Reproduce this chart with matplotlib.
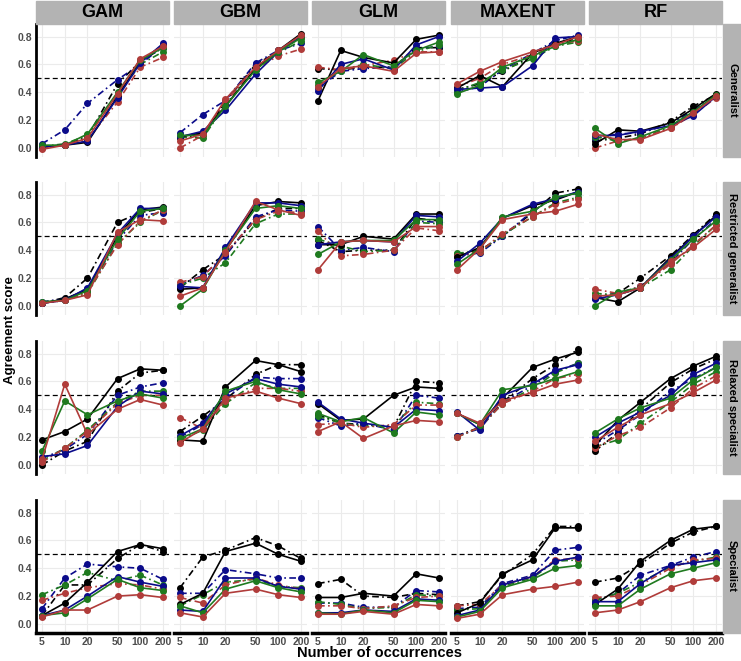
import numpy as np
import matplotlib.pyplot as plt

plt.rcParams['font.family'] = ['Liberation Sans', 'DejaVu Sans']

occurrences = [5, 10, 20, 50, 100, 200]
models = ['GAM', 'GBM', 'GLM', 'MAXENT', 'RF']
niches = ['Generalist', 'Restricted generalist', 'Relaxed specialist', 'Specialist']

# series order in each panel:
# black solid, black dotdash, navy solid, navy dotdash,
# green solid, green dotdash, red solid, red dotdash
series_colors = ['#000000', '#000000', '#0B0B8A', '#0B0B8A',
                 '#1F7A1F', '#1F7A1F', '#B03C3A', '#B03C3A']
series_dashed = [False, True, False, True, False, True, False, True]

# --- Generalist ---
gam_gen = [[0.01, 0.02, 0.04, 0.37, 0.62, 0.74],
           [0.01, 0.02, 0.08, 0.46, 0.62, 0.72],
           [0.01, 0.02, 0.05, 0.36, 0.61, 0.75],
           [0.03, 0.13, 0.32, 0.49, 0.60, 0.73],
           [0.02, 0.02, 0.10, 0.40, 0.63, 0.72],
           [0.01, 0.03, 0.09, 0.38, 0.60, 0.69],
           [-0.01, 0.02, 0.07, 0.39, 0.64, 0.73],
           [0.00, 0.02, 0.06, 0.33, 0.58, 0.65]]
gbm_gen = [[0.08, 0.11, 0.30, 0.57, 0.70, 0.82],
           [0.07, 0.10, 0.33, 0.60, 0.69, 0.80],
           [0.08, 0.12, 0.27, 0.53, 0.69, 0.80],
           [0.11, 0.24, 0.34, 0.61, 0.70, 0.75],
           [0.09, 0.09, 0.30, 0.56, 0.69, 0.79],
           [0.08, 0.07, 0.31, 0.57, 0.68, 0.77],
           [0.05, 0.10, 0.35, 0.58, 0.70, 0.81],
           [0.00, 0.09, 0.33, 0.57, 0.66, 0.71]]
glm_gen = [[0.34, 0.70, 0.65, 0.61, 0.78, 0.81],
           [0.57, 0.56, 0.58, 0.58, 0.72, 0.72],
           [0.41, 0.60, 0.64, 0.56, 0.74, 0.80],
           [0.43, 0.55, 0.57, 0.58, 0.71, 0.73],
           [0.47, 0.55, 0.67, 0.59, 0.70, 0.76],
           [0.45, 0.56, 0.60, 0.57, 0.69, 0.74],
           [0.44, 0.57, 0.59, 0.55, 0.68, 0.69],
           [0.58, 0.56, 0.59, 0.63, 0.69, 0.69]]
maxent_gen = [[0.43, 0.52, 0.44, 0.68, 0.75, 0.80],
              [0.42, 0.46, 0.55, 0.66, 0.74, 0.79],
              [0.42, 0.43, 0.44, 0.59, 0.79, 0.80],
              [0.40, 0.44, 0.56, 0.68, 0.77, 0.81],
              [0.39, 0.45, 0.58, 0.66, 0.73, 0.78],
              [0.41, 0.47, 0.56, 0.64, 0.73, 0.76],
              [0.46, 0.55, 0.62, 0.69, 0.74, 0.80],
              [0.44, 0.50, 0.60, 0.67, 0.74, 0.77]]
rf_gen = [[0.03, 0.13, 0.12, 0.18, 0.28, 0.39],
          [0.05, 0.07, 0.10, 0.19, 0.30, 0.38],
          [0.09, 0.09, 0.12, 0.16, 0.23, 0.37],
          [0.07, 0.10, 0.11, 0.17, 0.27, 0.37],
          [0.14, 0.03, 0.08, 0.16, 0.26, 0.38],
          [0.08, 0.05, 0.07, 0.15, 0.25, 0.37],
          [0.10, 0.06, 0.06, 0.14, 0.25, 0.37],
          [0.00, 0.05, 0.07, 0.14, 0.24, 0.36]]

# --- Restricted generalist ---
gam_rgen = [[0.02, 0.05, 0.12, 0.50, 0.69, 0.71],
            [0.02, 0.06, 0.20, 0.60, 0.67, 0.70],
            [0.02, 0.04, 0.13, 0.52, 0.70, 0.70],
            [0.03, 0.05, 0.11, 0.47, 0.65, 0.67],
            [0.03, 0.04, 0.11, 0.48, 0.68, 0.70],
            [0.02, 0.04, 0.09, 0.45, 0.60, 0.69],
            [0.02, 0.04, 0.08, 0.53, 0.62, 0.61],
            [0.02, 0.04, 0.10, 0.44, 0.61, 0.69]]
gbm_rgen = [[0.12, 0.13, 0.40, 0.72, 0.75, 0.74],
            [0.13, 0.26, 0.37, 0.62, 0.70, 0.70],
            [0.14, 0.13, 0.42, 0.74, 0.74, 0.72],
            [0.15, 0.22, 0.36, 0.64, 0.69, 0.68],
            [0.00, 0.12, 0.40, 0.70, 0.72, 0.70],
            [0.15, 0.20, 0.31, 0.59, 0.66, 0.66],
            [0.07, 0.13, 0.39, 0.75, 0.69, 0.65],
            [0.17, 0.21, 0.38, 0.62, 0.68, 0.67]]
glm_rgen = [[0.44, 0.44, 0.50, 0.48, 0.66, 0.66],
            [0.47, 0.39, 0.40, 0.40, 0.63, 0.61],
            [0.44, 0.46, 0.47, 0.46, 0.65, 0.64],
            [0.57, 0.40, 0.42, 0.39, 0.61, 0.60],
            [0.37, 0.46, 0.47, 0.47, 0.62, 0.62],
            [0.48, 0.43, 0.39, 0.40, 0.60, 0.59],
            [0.26, 0.46, 0.47, 0.46, 0.57, 0.57],
            [0.54, 0.36, 0.37, 0.40, 0.56, 0.54]]
maxent_rgen = [[0.35, 0.42, 0.63, 0.72, 0.76, 0.82],
               [0.37, 0.40, 0.50, 0.67, 0.81, 0.84],
               [0.32, 0.45, 0.63, 0.73, 0.77, 0.82],
               [0.36, 0.38, 0.50, 0.68, 0.78, 0.81],
               [0.30, 0.41, 0.64, 0.68, 0.78, 0.81],
               [0.38, 0.39, 0.51, 0.64, 0.74, 0.78],
               [0.26, 0.41, 0.62, 0.66, 0.68, 0.73],
               [0.36, 0.39, 0.52, 0.64, 0.73, 0.77]]
rf_rgen = [[0.06, 0.03, 0.13, 0.35, 0.50, 0.65],
           [0.07, 0.09, 0.20, 0.36, 0.51, 0.66],
           [0.05, 0.08, 0.13, 0.34, 0.50, 0.64],
           [0.06, 0.09, 0.14, 0.31, 0.48, 0.62],
           [0.00, 0.10, 0.13, 0.33, 0.48, 0.61],
           [0.09, 0.08, 0.13, 0.26, 0.43, 0.58],
           [0.07, 0.08, 0.13, 0.32, 0.42, 0.55],
           [0.12, 0.09, 0.14, 0.30, 0.44, 0.58]]

# --- Relaxed specialist ---
gam_rspec = [[0.18, 0.24, 0.33, 0.62, 0.69, 0.68],
             [0.00, 0.10, 0.17, 0.53, 0.66, 0.68],
             [0.06, 0.08, 0.14, 0.42, 0.53, 0.51],
             [0.05, 0.11, 0.22, 0.50, 0.56, 0.59],
             [0.10, 0.46, 0.36, 0.46, 0.51, 0.48],
             [0.03, 0.12, 0.25, 0.45, 0.53, 0.53],
             [0.04, 0.58, 0.22, 0.40, 0.47, 0.43],
             [0.02, 0.12, 0.24, 0.44, 0.50, 0.50]]
gbm_rspec = [[0.18, 0.17, 0.56, 0.75, 0.72, 0.67],
             [0.24, 0.35, 0.47, 0.65, 0.72, 0.72],
             [0.21, 0.30, 0.51, 0.62, 0.58, 0.56],
             [0.20, 0.29, 0.48, 0.63, 0.62, 0.62],
             [0.19, 0.26, 0.53, 0.60, 0.54, 0.51],
             [0.18, 0.25, 0.44, 0.59, 0.55, 0.55],
             [0.16, 0.26, 0.48, 0.53, 0.48, 0.44],
             [0.34, 0.26, 0.46, 0.55, 0.55, 0.53]]
glm_rspec = [[0.44, 0.32, 0.33, 0.50, 0.56, 0.55],
             [0.36, 0.30, 0.29, 0.27, 0.60, 0.59],
             [0.45, 0.33, 0.30, 0.27, 0.40, 0.39],
             [0.34, 0.28, 0.30, 0.25, 0.50, 0.48],
             [0.37, 0.31, 0.34, 0.23, 0.38, 0.36],
             [0.35, 0.30, 0.28, 0.28, 0.45, 0.44],
             [0.24, 0.31, 0.19, 0.28, 0.32, 0.31],
             [0.29, 0.30, 0.27, 0.29, 0.43, 0.43]]
maxent_rspec = [[0.37, 0.29, 0.48, 0.70, 0.76, 0.81],
                [0.21, 0.27, 0.45, 0.62, 0.72, 0.83],
                [0.38, 0.25, 0.50, 0.58, 0.68, 0.72],
                [0.21, 0.26, 0.45, 0.57, 0.67, 0.73],
                [0.37, 0.29, 0.54, 0.57, 0.62, 0.67],
                [0.20, 0.27, 0.44, 0.55, 0.66, 0.73],
                [0.37, 0.30, 0.46, 0.52, 0.58, 0.61],
                [0.20, 0.27, 0.44, 0.53, 0.62, 0.65]]
rf_rspec = [[0.14, 0.32, 0.45, 0.62, 0.71, 0.78],
            [0.10, 0.23, 0.40, 0.59, 0.69, 0.76],
            [0.20, 0.30, 0.38, 0.50, 0.65, 0.73],
            [0.15, 0.25, 0.36, 0.53, 0.62, 0.70],
            [0.23, 0.33, 0.41, 0.48, 0.61, 0.70],
            [0.13, 0.18, 0.30, 0.45, 0.58, 0.67],
            [0.17, 0.27, 0.36, 0.44, 0.52, 0.61],
            [0.12, 0.21, 0.27, 0.41, 0.55, 0.64]]

# --- Specialist ---
gam_spec = [[0.06, 0.15, 0.30, 0.52, 0.57, 0.54],
            [0.06, 0.28, 0.28, 0.47, 0.57, 0.52],
            [0.06, 0.10, 0.20, 0.34, 0.30, 0.27],
            [0.11, 0.33, 0.43, 0.41, 0.40, 0.32],
            [0.06, 0.08, 0.18, 0.32, 0.26, 0.24],
            [0.21, 0.28, 0.37, 0.31, 0.35, 0.28],
            [0.05, 0.10, 0.10, 0.20, 0.21, 0.19],
            [0.17, 0.22, 0.26, 0.29, 0.28, 0.25]]
gbm_spec = [[0.14, 0.22, 0.52, 0.58, 0.50, 0.45],
            [0.26, 0.48, 0.53, 0.62, 0.56, 0.47],
            [0.10, 0.09, 0.33, 0.33, 0.27, 0.25],
            [0.22, 0.22, 0.39, 0.36, 0.33, 0.33],
            [0.13, 0.08, 0.25, 0.31, 0.26, 0.23],
            [0.13, 0.21, 0.30, 0.32, 0.27, 0.26],
            [0.08, 0.05, 0.22, 0.25, 0.21, 0.19],
            [0.19, 0.15, 0.28, 0.33, 0.28, 0.25]]
glm_spec = [[0.19, 0.19, 0.22, 0.20, 0.36, 0.33],
            [0.29, 0.32, 0.20, 0.19, 0.22, 0.21],
            [0.08, 0.08, 0.10, 0.09, 0.18, 0.17],
            [0.15, 0.15, 0.12, 0.12, 0.24, 0.23],
            [0.08, 0.07, 0.10, 0.08, 0.17, 0.16],
            [0.16, 0.14, 0.11, 0.12, 0.21, 0.20],
            [0.07, 0.07, 0.09, 0.07, 0.14, 0.13],
            [0.13, 0.13, 0.11, 0.13, 0.19, 0.20]]
maxent_spec = [[0.08, 0.15, 0.36, 0.46, 0.69, 0.69],
               [0.13, 0.16, 0.35, 0.50, 0.70, 0.70],
               [0.06, 0.10, 0.28, 0.34, 0.45, 0.48],
               [0.11, 0.12, 0.29, 0.35, 0.53, 0.55],
               [0.05, 0.09, 0.26, 0.32, 0.40, 0.42],
               [0.10, 0.11, 0.27, 0.33, 0.45, 0.46],
               [0.04, 0.07, 0.21, 0.25, 0.27, 0.30],
               [0.13, 0.14, 0.28, 0.34, 0.46, 0.47]]
rf_spec = [[0.14, 0.25, 0.45, 0.60, 0.68, 0.70],
           [0.30, 0.33, 0.43, 0.58, 0.66, 0.70],
           [0.16, 0.16, 0.29, 0.42, 0.44, 0.46],
           [0.17, 0.22, 0.35, 0.42, 0.48, 0.52],
           [0.13, 0.13, 0.25, 0.36, 0.40, 0.44],
           [0.17, 0.22, 0.30, 0.41, 0.45, 0.48],
           [0.08, 0.10, 0.16, 0.26, 0.31, 0.33],
           [0.19, 0.20, 0.28, 0.40, 0.46, 0.47]]

panels = [[gam_gen, gbm_gen, glm_gen, maxent_gen, rf_gen],
          [gam_rgen, gbm_rgen, glm_rgen, maxent_rgen, rf_rgen],
          [gam_rspec, gbm_rspec, glm_rspec, maxent_rspec, rf_rspec],
          [gam_spec, gbm_spec, glm_spec, maxent_spec, rf_spec]]

W, H = 741, 661
fig = plt.figure(figsize=(W / 100, H / 100), dpi=100)

col_left = [36, 174, 312, 451, 589]
row_top = [24, 182, 341, 500]
pw, ph = 133, 133
tick_color = '#4D4D4D'

lx = np.log10(occurrences)
xpad = 0.05 * (lx[-1] - lx[0])
xlim = (10 ** (lx[0] - xpad), 10 ** (lx[-1] + xpad))

for r in range(4):
    for c in range(5):
        ax = fig.add_axes([col_left[c] / W, 1 - (row_top[r] + ph) / H, pw / W, ph / H])
        ax.set_xscale('log')
        ax.set_xlim(*xlim)
        ax.set_ylim(-0.065, 0.89)
        ax.set_xticks(occurrences)
        ax.set_xticks([], minor=True)
        ax.set_yticks([0.0, 0.2, 0.4, 0.6, 0.8])
        ax.grid(True, color='#EBEBEB', lw=0.8)
        ax.set_axisbelow(True)
        for s in ax.spines.values():
            s.set_visible(False)
        ax.tick_params(length=0, colors=tick_color, labelsize=7.5)
        if c == 0:
            ax.spines['left'].set_visible(True)
            ax.spines['left'].set_linewidth(2)
            ax.set_yticklabels(['0.0', '0.2', '0.4', '0.6', '0.8'], fontweight='bold')
        else:
            ax.set_yticklabels([])
        if r == 3:
            ax.spines['bottom'].set_visible(True)
            ax.spines['bottom'].set_linewidth(2.5)
            ax.set_xticklabels([str(o) for o in occurrences], fontweight='bold')
        else:
            ax.set_xticklabels([])
        ax.tick_params(axis='x', pad=3)
        ax.tick_params(axis='y', pad=3)

        ax.axhline(0.5, color='black', ls=(0, (4, 2.5)), lw=0.9, zorder=1)

        data = panels[r][c]
        order = [1, 3, 5, 7, 0, 2, 4, 6]
        for i in order:
            ls = (0, (4, 2, 1, 2)) if series_dashed[i] else '-'
            ax.plot(occurrences, data[i], color=series_colors[i], ls=ls, lw=1.2,
                    marker='o', ms=4, zorder=3)

        if r == 0:
            fig.patches.append(plt.Rectangle((col_left[c] / W, 1 - 24 / H), pw / W, 23 / H,
                                             transform=fig.transFigure, color='#B3B3B3',
                                             zorder=0))
            fig.text((col_left[c] + pw / 2) / W, 1 - 12.5 / H, models[c],
                     ha='center', va='center', fontsize=13, fontweight='bold')
        if c == 4:
            fig.patches.append(plt.Rectangle((723 / W, 1 - (row_top[r] + ph) / H), 18 / W, ph / H,
                                             transform=fig.transFigure, color='#B3B3B3',
                                             zorder=0))
            fig.text(732 / W, 1 - (row_top[r] + ph / 2) / H, niches[r], rotation=-90,
                     ha='center', va='center', fontsize=8, fontweight='bold')

fig.text(10 / W, 1 - 330 / H, 'Agreement score', rotation=90, ha='center', va='center',
         fontsize=9.5, fontweight='bold')
fig.text(379 / W, 1 - 653 / H, 'Number of occurrences', ha='center', va='center',
         fontsize=10.5, fontweight='bold')

fig.savefig('out.png', dpi=100)
